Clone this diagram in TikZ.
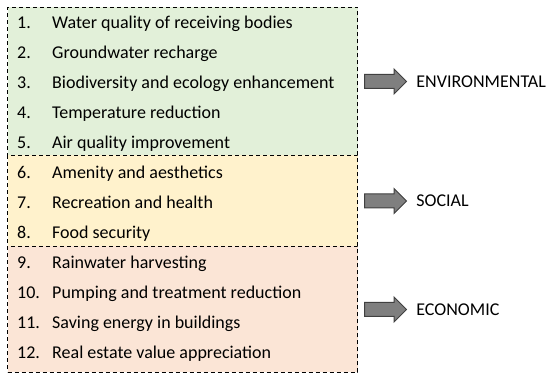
\documentclass[tikz,border=0pt]{standalone}
\usepackage{fontspec}
\setmainfont{Carlito}
\usepackage{tikz}
\usetikzlibrary{positioning,shapes.arrows}
\definecolor{envc}{HTML}{E2F0D9}
\definecolor{socc}{HTML}{FFF2CC}
\definecolor{ecoc}{HTML}{FBE5D6}
\definecolor{arrc}{HTML}{7F7F7F}
\definecolor{arrl}{HTML}{404040}
\tikzset{
  group/.style={draw=black,dash pattern=on 4pt off 3pt,line width=1pt,minimum width=350pt,inner sep=0pt,anchor=north west},
  num/.style={font=\fontsize{18}{21}\selectfont,anchor=base west,inner sep=0pt},
  txt/.style={font=\fontsize{18}{21}\selectfont,anchor=base west,inner sep=0pt},
  barrow/.style={single arrow,draw=arrl,fill=arrc,line width=1pt,minimum height=42pt,minimum width=24pt,
    single arrow head extend=5.5pt,inner xsep=0pt,inner ysep=6.5pt},
  lbl/.style={font=\fontsize{18}{21}\selectfont,anchor=west,inner sep=0pt},
}
\newcommand{\benefit}[3]{\node[num] (n#1) at (17,#2) {#1.};\node[txt] (t#1) at (52,#2) {#3};}

\begin{document}
\begin{tikzpicture}[x=1pt,y=-1pt]
  \useasboundingbox (0,0) rectangle (550,379);
  % three groups
  \node[group,fill=envc,minimum height=148pt] (env) at (7,7) {};
  \node[group,fill=socc,minimum height=91pt] (soc) at (7,155) {};
  \node[group,fill=ecoc,minimum height=126pt] (eco) at (7,246) {};
  % items (baselines)
  \benefit{1}{29}{Water quality of receiving bodies}
  \benefit{2}{59}{Groundwater recharge}
  \benefit{3}{89}{Biodiversity and ecology enhancement}
  \benefit{4}{119}{Temperature reduction}
  \benefit{5}{149}{Air quality improvement}
  \benefit{6}{179}{Amenity and aesthetics}
  \benefit{7}{209}{Recreation and health}
  \benefit{8}{239}{Food security}
  \benefit{9}{269}{Rainwater harvesting}
  \benefit{10}{299}{Pumping and treatment reduction}
  \benefit{11}{329}{Saving energy in buildings}
  \benefit{12}{359}{Real estate value appreciation}
  % arrows and labels
  \node[barrow,right=6pt of env] (aenv) {};
  \node[lbl,right=9pt of aenv] (lenv) {ENVIRONMENTAL};
  \node[barrow,right=6pt of soc] (asoc) {};
  \node[lbl,right=9pt of asoc] (lsoc) {SOCIAL};
  \node[barrow,right=6pt of eco] (aeco) {};
  \node[lbl,right=9pt of aeco] (leco) {ECONOMIC};
\end{tikzpicture}
\end{document}
